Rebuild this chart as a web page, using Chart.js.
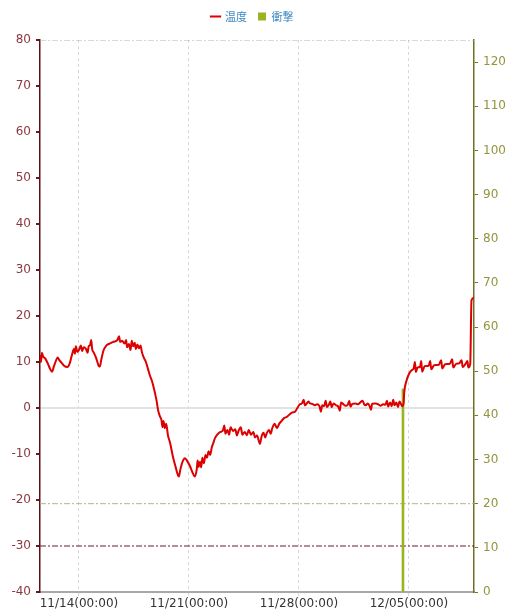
<!DOCTYPE html>
<html>
<head>
<meta charset="utf-8">
<script src="https://cdn.jsdelivr.net/npm/chart.js@4.4.1/dist/chart.umd.min.js"></script>
<style>
  body { margin: 0; background: #fff; }
  canvas { display: block; }
</style>
</head>
<body>
<canvas id="chart" width="505" height="612"></canvas>
<script>
// x values are days counted from 11/14 00:00
const xMin = -2.48;
const xMax = 25.14;
const tickDays = [0, 7, 14, 21];
const tickLabels = ["11/14(00:00)", "11/21(00:00)", "11/28(00:00)", "12/05(00:00)"];

const tempDays = [
  -2.48, -2.42, -2.36, -2.28, -2.15, -2.0, -1.85, -1.72, -1.6, -1.45, -1.36, -1.25, -1.1, -0.95, -0.75, -0.6,
  -0.45, -0.32, -0.26, -0.2, -0.1, 0.0, 0.12, 0.2, 0.3, 0.45, 0.55, 0.62, 0.7, 0.78, 0.84, 0.95,
  1.1, 1.25, 1.33, 1.42, 1.55, 1.75, 1.95, 2.2, 2.45, 2.55, 2.62, 2.75, 2.9, 3.0, 3.06, 3.18,
  3.28, 3.36, 3.45, 3.55, 3.62, 3.72, 3.82, 3.92, 4.0, 4.12, 4.26, 4.4, 4.52, 4.65, 4.84, 4.95,
  5.03, 5.15, 5.25, 5.32, 5.38, 5.47, 5.55, 5.66, 5.8, 5.98, 6.15, 6.3, 6.36, 6.45, 6.6, 6.74,
  6.9, 7.06, 7.2, 7.38, 7.5, 7.55, 7.62, 7.7, 7.78, 7.85, 7.95, 8.05, 8.15, 8.25, 8.35, 8.45,
  8.55, 8.65, 8.8, 9.0, 9.16, 9.25, 9.32, 9.45, 9.55, 9.65, 9.8, 9.95, 10.05, 10.15, 10.3, 10.4,
  10.55, 10.69, 10.8, 10.95, 11.1, 11.2, 11.33, 11.52, 11.62, 11.75, 11.85, 11.96, 12.1, 12.2, 12.3, 12.45,
  12.6, 12.75, 12.9, 13.05, 13.24, 13.4, 13.55, 13.75, 13.9, 14.05, 14.19, 14.3, 14.38, 14.5, 14.6, 14.7,
  14.85, 15.0, 15.15, 15.3, 15.4, 15.48, 15.6, 15.7, 15.78, 15.9, 16.0, 16.08, 16.2, 16.35, 16.5, 16.6,
  16.68, 16.8, 16.95, 17.1, 17.2, 17.28, 17.4, 17.6, 17.75, 17.9, 18.05, 18.15, 18.25, 18.38, 18.5, 18.58,
  18.66, 18.8, 18.9, 19.05, 19.2, 19.35, 19.5, 19.6, 19.68, 19.8, 19.9, 20.0, 20.08, 20.2, 20.3, 20.4,
  20.5, 20.58, 20.66, 20.7, 20.85, 21.0, 21.17, 21.3, 21.38, 21.44, 21.55, 21.7, 21.78, 21.84, 22.0, 22.25,
  22.35, 22.42, 22.6, 22.9, 23.05, 23.12, 23.3, 23.6, 23.75, 23.82, 24.0, 24.2, 24.35, 24.42, 24.6, 24.72,
  24.78, 24.9, 24.98, 25.14
];
const tempValues = [
  11.5, 10.0, 12.0, 11.2, 10.8, 9.8, 8.6, 7.9, 9.0, 10.4, 11.0, 10.4, 9.8, 9.2, 8.9, 9.6,
  11.5, 12.8, 11.8, 13.4, 12.2, 12.6, 13.6, 12.4, 13.2, 12.8, 12.0, 13.5, 13.6, 14.8, 12.8, 12.0,
  10.8, 9.2, 9.0, 10.5, 12.4, 13.6, 14.0, 14.4, 14.8, 15.6, 14.4, 14.6, 14.0, 14.8, 13.2, 13.9,
  12.6, 14.6, 13.4, 14.2, 12.8, 13.8, 13.0, 13.6, 12.2, 11.0, 10.0, 8.4, 7.0, 5.8, 3.2, 1.4,
  -0.4, -1.8, -2.6, -4.2, -2.8, -4.4, -3.4, -5.9, -7.6, -10.6, -12.8, -14.6, -14.9, -13.4, -11.6, -10.9,
  -11.6, -12.6, -13.8, -14.9, -13.2, -11.4, -12.8, -11.7, -12.9, -10.8, -12.0, -10.2, -10.8, -9.4, -10.2, -8.6,
  -7.6, -6.6, -5.8, -5.2, -4.9, -3.8, -5.6, -4.8, -5.8, -4.2, -5.0, -4.6, -6.0, -5.0, -4.2, -5.8,
  -5.2, -5.9, -4.8, -5.8, -5.2, -6.4, -6.0, -7.8, -6.2, -5.4, -6.4, -5.4, -4.8, -5.6, -4.4, -3.4,
  -4.4, -3.4, -2.8, -2.2, -1.9, -1.4, -1.0, -0.8, 0.0, 0.8, 1.0, 1.8, 0.6, 1.0, 1.4, 1.0,
  0.9, 0.6, 0.8, 0.4, -0.8, 0.6, 0.4, 1.6, 0.2, 0.7, 1.4, 0.2, 1.0, 0.6, 0.3, -0.6,
  1.2, 0.9, 0.5, 0.7, 1.5, 0.3, 0.9, 1.0, 0.8, 1.2, 1.6, 0.8, 0.6, 1.0, 0.4, -0.4,
  0.9, 1.0, 1.0, 0.8, 0.5, 0.8, 0.7, 1.6, 0.3, 1.2, 0.4, 1.8, 0.6, 1.2, 0.2, 1.4,
  0.8, 0.4, 1.0, 3.4, 6.0, 7.4, 8.2, 8.6, 10.0, 7.8, 8.8, 8.9, 10.2, 7.9, 9.1, 9.2,
  10.2, 8.4, 9.3, 9.4, 10.4, 8.6, 9.5, 9.6, 10.6, 8.8, 9.6, 9.7, 10.4, 8.9, 9.6, 10.2,
  8.8, 9.6, 23.4, 24.0
];

const shockDays = [20.62];
const shockValues = [46];

// threshold lines
const tempUpper = 80;
const tempLower = -30;
const shockLimit = 20;

const ctx = document.getElementById("chart");

const lineAt = (v) => [{ x: xMin, y: v }, { x: xMax, y: v }];
const dashDot = [6, 2, 2, 2];

// fix the legend band so the plot starts at y = 40
const legendHeight = {
    id: "legendHeight",
    beforeUpdate(chart) {
        const legend = chart.legend;
        if (legend && !legend._patched) {
            const fit = legend.fit;
            legend.fit = function () {
                fit.call(this);
                this.height = 40;
            };
            legend._patched = true;
        }
    }
};

new Chart(ctx, {
    type: "line",
    data: {
        datasets: [
            {
                label: "温度",
                data: tempDays.map((d, i) => ({ x: d, y: tempValues[i] })),
                borderColor: "#dc0000",
                backgroundColor: "#dc0000",
                borderWidth: 2,
                pointRadius: 0,
                cubicInterpolationMode: "monotone",
                pointStyle: "line",
                yAxisID: "y"
            },
            {
                type: "bar",
                label: "衝撃",
                data: shockDays.map((d, i) => ({ x: d, y: shockValues[i] })),
                backgroundColor: "#99b526",
                borderWidth: 0,
                barThickness: 2,
                pointStyle: "rect",
                yAxisID: "y2"
            },
            {
                label: "upper",
                data: lineAt(tempUpper),
                borderColor: "#b9b3a6",
                borderWidth: 1,
                borderDash: dashDot,
                pointRadius: 0,
                yAxisID: "y"
            },
            {
                label: "lower",
                data: lineAt(tempLower),
                borderColor: "#6e1a2a",
                borderWidth: 1,
                borderDash: dashDot,
                pointRadius: 0,
                yAxisID: "y"
            },
            {
                label: "shock",
                data: lineAt(shockLimit),
                borderColor: "#b3b68a",
                borderWidth: 1,
                borderDash: dashDot,
                pointRadius: 0,
                yAxisID: "y2"
            }
        ]
    },
    options: {
        responsive: false,
        animation: false,
        layout: { padding: { left: 0, right: 0, top: 0, bottom: 0 } },
        plugins: {
            legend: {
                position: "top",
                labels: {
                    usePointStyle: true,
                    boxWidth: 8,
                    boxHeight: 8,
                    padding: 11,
                    color: "#3d8ac2",
                    font: { family: "'Noto Sans CJK JP'", size: 11 },
                    filter: (item) => item.datasetIndex < 2
                }
            },
            tooltip: { enabled: false }
        },
        scales: {
            x: {
                type: "linear",
                min: xMin,
                max: xMax,
                offset: false,
                afterBuildTicks: (scale) => {
                    scale.ticks = tickDays.map(v => ({ value: v }));
                },
                afterFit: (scale) => { scale.height = 20; },
                ticks: {
                    callback: (v) => tickLabels[tickDays.indexOf(v)],
                    color: "#333",
                    font: { family: "'DejaVu Sans'", size: 12 },
                    padding: 1,
                    maxRotation: 0
                },
                grid: {
                    offset: false,
                    color: "#d8d8d8",
                    tickLength: 4,
                    tickBorderDash: [3, 3]
                },
                border: { color: "#a8a8a8", width: 2, dash: [3, 3] }
            },
            y: {
                position: "left",
                min: -40,
                max: 80,
                ticks: {
                    stepSize: 10,
                    color: "#8b3a40",
                    font: { family: "'DejaVu Sans'", size: 12 },
                    padding: 5
                },
                afterFit: (scale) => { scale.width = 40; },
                grid: {
                    color: (c) => c.tick && c.tick.value === 0 ? "#e2e2e2" : "rgba(0,0,0,0)",
                    lineWidth: 2,
                    tickColor: "#6a1a20",
                    tickLength: 4
                },
                border: { color: "#5e0f16", width: 1.5 }
            },
            y2: {
                position: "right",
                min: 0,
                max: 125,
                ticks: {
                    stepSize: 10,
                    includeBounds: false,
                    color: "#94943e",
                    font: { family: "'DejaVu Sans'", size: 12 },
                    padding: 5
                },
                afterFit: (scale) => { scale.width = 31; },
                grid: {
                    drawOnChartArea: false,
                    tickColor: "#77772a",
                    tickLength: 4
                },
                border: { color: "#707025", width: 1.5 }
            }
        }
    },
    plugins: [legendHeight]
});
</script>
</body>
</html>
